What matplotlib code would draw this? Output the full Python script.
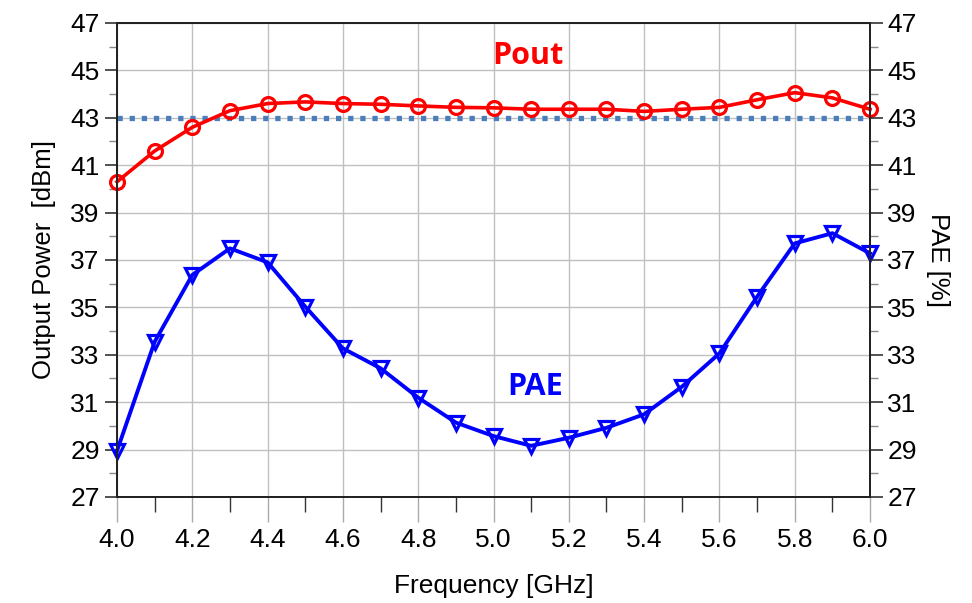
import numpy as np
import matplotlib.pyplot as plt

# frequency points (GHz)
freq = [4.0, 4.1, 4.2, 4.3, 4.4, 4.5, 4.6, 4.7, 4.8, 4.9, 5.0,
        5.1, 5.2, 5.3, 5.4, 5.5, 5.6, 5.7, 5.8, 5.9, 6.0]
# output power (dBm)
pout = [40.3, 41.6, 42.6, 43.3, 43.6, 43.67, 43.6, 43.57, 43.5, 43.44, 43.42,
        43.36, 43.36, 43.36, 43.27, 43.36, 43.44, 43.76, 44.06, 43.84, 43.36]
# power added efficiency (%)
pae = [28.95, 33.55, 36.37, 37.49, 36.9, 35.03, 33.27, 32.43, 31.19, 30.14, 29.57,
       29.16, 29.5, 29.92, 30.49, 31.65, 33.06, 35.45, 37.7, 38.13, 37.28]
target_level = 43.0

xticks = np.round(np.arange(4.0, 6.01, 0.2), 1)
xminor = np.round(np.arange(4.1, 6.0, 0.2), 1)
yticks = np.arange(27, 48, 2)
yminor = np.arange(28, 47, 2)

tick_font = ['Liberation Sans Narrow', 'Liberation Sans', 'DejaVu Sans']
label_font = ['Liberation Sans', 'DejaVu Sans']

fig = plt.figure(figsize=(9.72, 6.03), dpi=100)
ax = fig.add_axes([0.1204, 0.1758, 0.7747, 0.7861])

ax.plot([freq[0], freq[-1]], [target_level, target_level], color='#4a7ebb',
        lw=3.8, dashes=(1.0, 1.3), dash_capstyle='butt', zorder=2)
ax.plot(freq, pout, color='red', lw=2.6, marker='o', ms=10, mfc='none',
        mew=2.3, zorder=3, clip_on=False)
ax.plot(freq, pae, color='blue', lw=2.8, marker='v', ms=10, mfc='none',
        mew=2.3, zorder=3, clip_on=False)

ax.set_xticks(xticks)
ax.set_xticks(xminor, minor=True)
ax.set_xticklabels([f"{v:.1f}" for v in xticks], family=tick_font, fontsize=19)
ax.set_yticks(yticks)
ax.set_yticks(yminor, minor=True)
ax.set_yticklabels([str(v) for v in yticks], family=tick_font, fontsize=19)
ax.set_xlim(4.0, 6.0)
ax.set_ylim(27, 47)
ax.grid(True, which='major', color='#c0c0c0', lw=1.0)
ax.set_axisbelow(True)

ax.tick_params(axis='x', which='major', length=18, width=1, color='#aaaaaa', pad=4)
ax.tick_params(axis='x', which='minor', length=11, width=1, color='#333333')
ax.tick_params(axis='y', which='major', length=9, width=1.2, color='#333333')
ax.tick_params(axis='y', which='minor', length=6, width=1, color='#888888')

for s in ax.spines.values():
    s.set_color('#222222')
    s.set_linewidth(1.3)

ax2 = ax.twinx()
ax2.set_yticks(yticks)
ax2.set_yticks(yminor, minor=True)
ax2.set_yticklabels([str(v) for v in yticks], family=tick_font, fontsize=19)
ax2.set_ylim(27, 47)
ax2.tick_params(axis='y', which='major', length=9, width=1.2, color='#333333')
ax2.tick_params(axis='y', which='minor', length=6, width=1, color='#888888')
for s in ax2.spines.values():
    s.set_color('#222222')
    s.set_linewidth(1.3)

ax.set_xlabel("Frequency [GHz]", family=label_font, fontsize=19, labelpad=16)
ax.set_ylabel("Output Power  [dBm]", family=label_font, fontsize=18.5, labelpad=10)
ax2.set_ylabel("PAE [%]", family=label_font, fontsize=18.5, rotation=-90, labelpad=24)

ax.text(5.09, 45.6, "Pout", color='red', fontsize=22, fontweight='bold',
        family=['Open Sans', 'DejaVu Sans'], ha='center', va='center')
ax.text(5.11, 31.65, "PAE", color='blue', fontsize=22, fontweight='bold',
        family=['Open Sans', 'DejaVu Sans'], ha='center', va='center')

fig.savefig("out.png", dpi=100)
